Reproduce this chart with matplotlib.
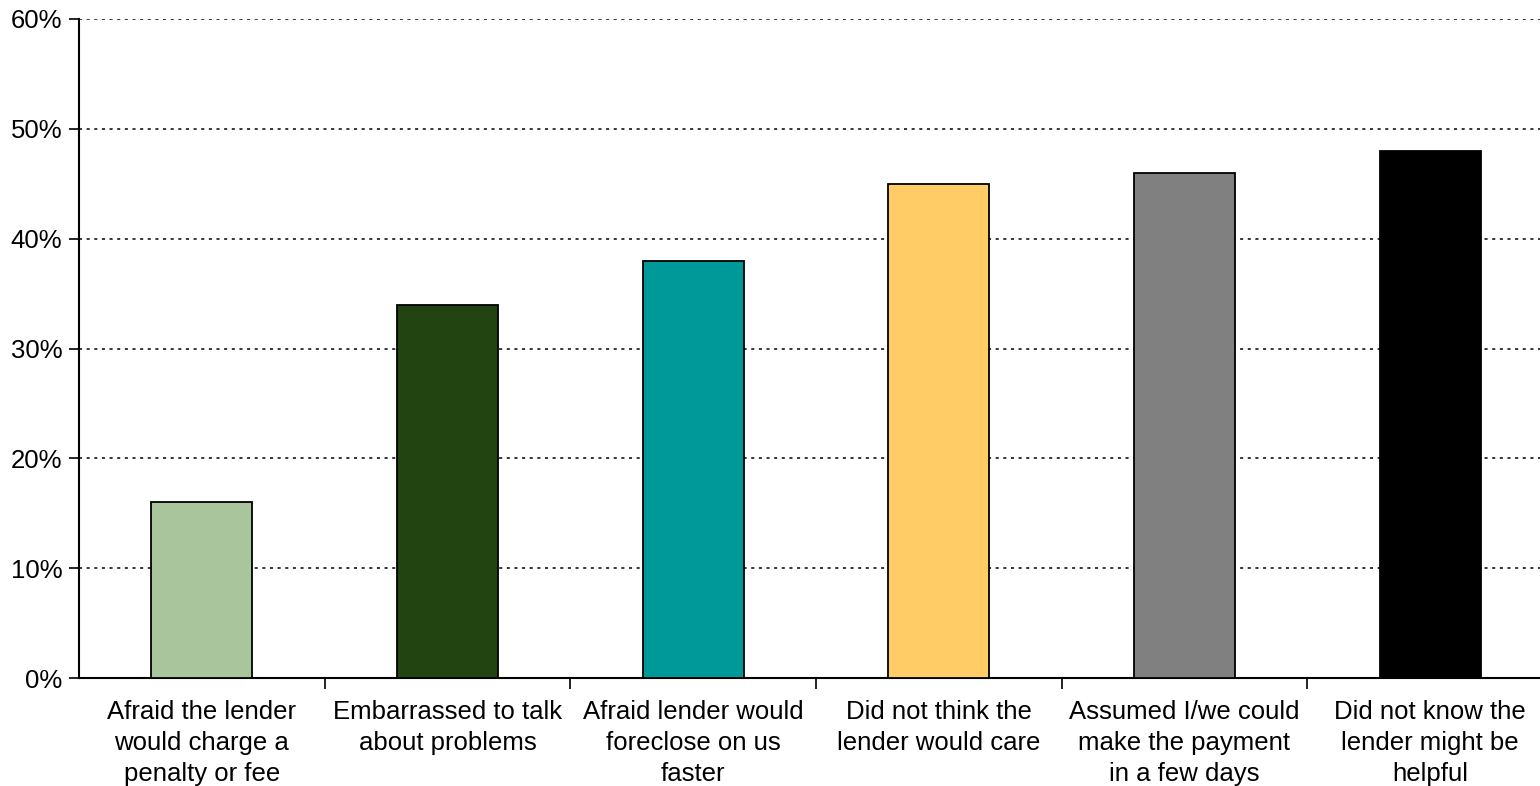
import matplotlib.pyplot as plt
from matplotlib.ticker import FixedLocator, PercentFormatter

plt.rcParams["font.family"] = ["Liberation Sans", "DejaVu Sans"]

categories = [
    "Afraid the lender\nwould charge a\npenalty or fee",
    "Embarrassed to talk\nabout problems",
    "Afraid lender would\nforeclose on us\nfaster",
    "Did not think the\nlender would care",
    "Assumed I/we could\nmake the payment\nin a few days",
    "Did not know the\nlender might be\nhelpful",
]
values = [16, 34, 38, 45, 46, 48]
colors = ["#A9C59B", "#224411", "#009999", "#FFCC66", "#808080", "#000000"]

fig = plt.figure(figsize=(15.4, 7.86), dpi=100)
ax = fig.add_axes([79 / 1540, 108 / 786, 1474 / 1540, 659 / 786])

x = range(len(categories))
ax.bar(x, values, width=0.41, color=colors, edgecolor="black", linewidth=1.3, zorder=3)

ax.set_xlim(-0.5, len(categories) - 0.5)
ax.set_ylim(0, 60)
ax.yaxis.set_major_locator(FixedLocator(range(0, 61, 10)))
ax.yaxis.set_major_formatter(PercentFormatter(decimals=0))
ax.grid(axis="y", color="black", linestyle=(0, (2, 3)), linewidth=1.1, zorder=0)

ax.set_xticks([i + 0.5 for i in range(len(categories) - 1)])
ax.set_xticklabels([])
ax.set_xticks(list(x), minor=True)
ax.set_xticklabels(categories, minor=True, fontsize=18.5, linespacing=1.36)
ax.tick_params(axis="x", which="minor", length=0, pad=16)
ax.tick_params(axis="x", which="major", length=8, width=1.2, direction="out")
ax.tick_params(axis="y", length=7, width=1.2, direction="out", labelsize=18.5, pad=5)

for side in ["top", "right"]:
    ax.spines[side].set_visible(False)
for side in ["left", "bottom"]:
    ax.spines[side].set_linewidth(1.5)

fig.savefig("out.png", dpi=100)
